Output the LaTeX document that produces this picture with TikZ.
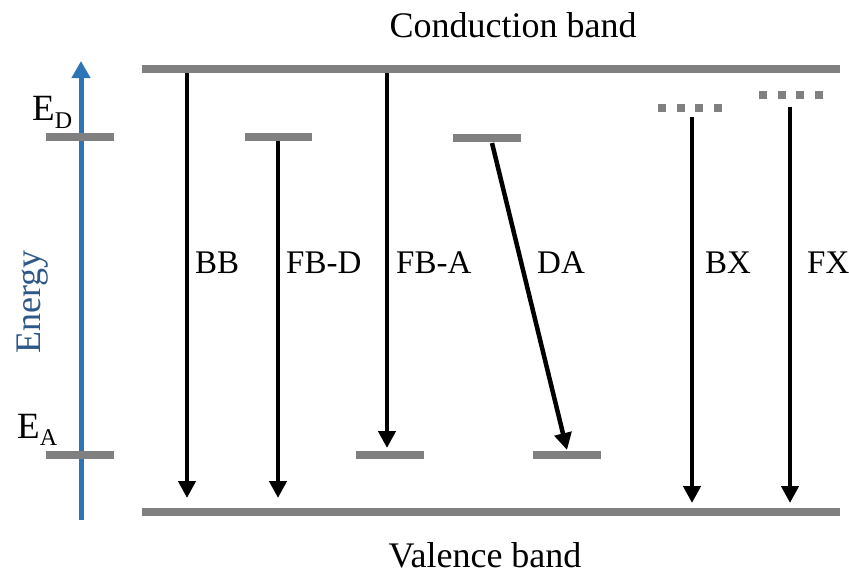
\documentclass[tikz,border=0pt]{standalone}
\usepackage{fontspec}
\setmainfont{Liberation Serif}
\usetikzlibrary{arrows.meta}
\definecolor{lvl}{RGB}{128,128,128}
\definecolor{eblue}{RGB}{46,117,182}
\definecolor{etext}{RGB}{47,88,138}
\tikzset{
  band/.style={draw=lvl, line width=8pt},
  level/.style={draw=lvl, line width=8pt},
  dotlevel/.style={draw=lvl, line width=8pt, dash pattern=on 8pt off 10.67pt},
  trans/.style={draw=black, line width=4.5pt, -{Triangle[width=17pt,length=17pt]}},
  lbl/.style={inner sep=0pt, anchor=base west, font=\fontsize{33}{36}\selectfont},
  title/.style={inner sep=0pt, anchor=base, font=\fontsize{36}{40}\selectfont},
}
\begin{document}
\begin{tikzpicture}[x=1pt,y=-1pt]
\useasboundingbox (0,0) rectangle (849,574);
% bands
\draw[band] (142,69) coordinate (cbL) -- (840,69) coordinate (cbR);
\draw[band] (142,512) coordinate (vbL) -- (840,512) coordinate (vbR);
\node[title] (cbt) at (513,37) {Conduction band};
\node[title] (vbt) at (485,567) {Valence band};
% energy axis
\coordinate (eb) at (81,520);
\coordinate (et) at (81,61);
\draw[draw=eblue, line width=5pt, -{Triangle[width=18pt,length=17pt]}] (eb) -- (et);
\node[inner sep=0pt, anchor=base, rotate=90, text=etext, font=\fontsize{36}{40}\selectfont] (energy) at (40,302) {Energy};
% reference levels
\draw[level] (46,137) coordinate (edL) -- (114,137) coordinate (edR);
\draw[level] (46,455) coordinate (eaL) -- (114,455) coordinate (eaR);
\node[inner sep=0pt, anchor=base west, font=\fontsize{37}{40}\selectfont] (edlab) at (32,120) {E\raisebox{-8pt}{\fontsize{24}{26}\selectfont D}};
\node[inner sep=0pt, anchor=base west, font=\fontsize{37}{40}\selectfont] (ealab) at (17,438) {E\raisebox{-7pt}{\fontsize{24}{26}\selectfont A}};
% BB
\coordinate (bb1) at (187,73);
\coordinate (bb2) at (187,498);
\draw[trans] (bb1) -- (bb2);
\node[lbl] (bbl) at (195,273) {BB};
% FB-D
\draw[level] (245,137) coordinate (fbdL) -- (312,137) coordinate (fbdR);
\coordinate (fbd1) at (278,141);
\coordinate (fbd2) at (278,498);
\draw[trans] (fbd1) -- (fbd2);
\node[lbl] (fbdl) at (286,273) {FB-D};
% FB-A
\draw[level] (356,455) coordinate (fbaL) -- (424,455) coordinate (fbaR);
\coordinate (fba1) at (387,73);
\coordinate (fba2) at (387,448);
\draw[trans] (fba1) -- (fba2);
\node[lbl] (fbal) at (396,273) {FB-A};
% DA
\draw[level] (453,138) coordinate (daL1) -- (521,138) coordinate (daR1);
\draw[level] (533,455) coordinate (daL2) -- (601,455) coordinate (daR2);
\coordinate (da1) at (492,143);
\coordinate (da2) at (567,450);
\draw[trans] (da1) -- (da2);
\node[lbl] (dal) at (537,273) {DA};
% BX
\draw[dotlevel] (658,108) coordinate (bxL) -- (722,108) coordinate (bxR);
\coordinate (bx1) at (692,117);
\coordinate (bx2) at (692,503);
\draw[trans] (bx1) -- (bx2);
\node[lbl] (bxl) at (705,273) {BX};
% FX
\draw[dotlevel] (759,95) coordinate (fxL) -- (823,95) coordinate (fxR);
\coordinate (fx1) at (790,107);
\coordinate (fx2) at (790,503);
\draw[trans] (fx1) -- (fx2);
\node[lbl] (fxl) at (807,273) {FX};
\end{tikzpicture}
\end{document}
